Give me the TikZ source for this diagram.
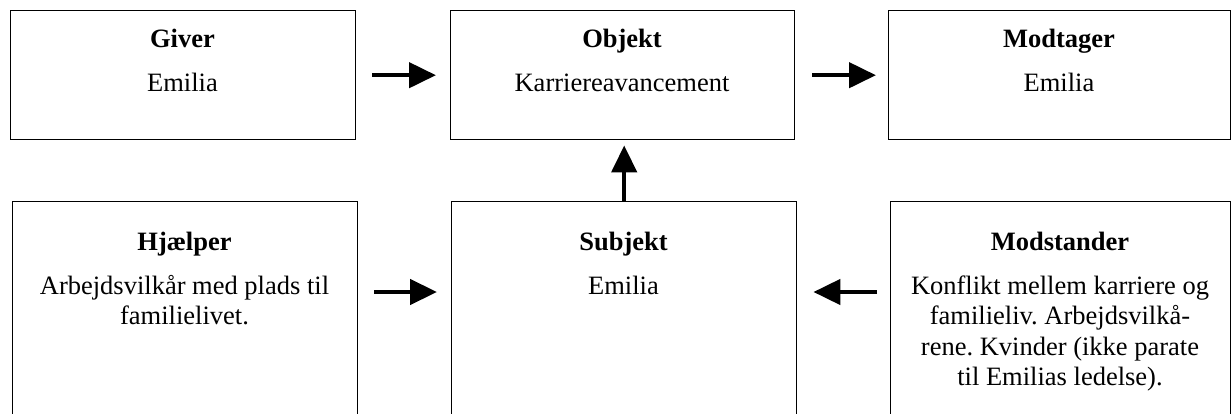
\documentclass[tikz,border=0pt]{standalone}
\usepackage{fontspec}
\setmainfont{Liberation Serif}
\usetikzlibrary{arrows.meta}
\frenchspacing
\begin{document}
\begin{tikzpicture}[x=1pt,y=-1pt,
  box/.style={draw, line width=1.4pt, rectangle, anchor=north west, inner sep=0pt},
  ttl/.style={anchor=base, font=\fontsize{26.5}{30.5}\selectfont\bfseries, inner sep=0pt},
  txt/.style={anchor=base, align=center, font=\fontsize{26.5}{30.5}\selectfont, inner sep=0pt},
  % several lines: the strut puts the first baseline 20pt below the node's top
  para/.style={anchor=north, align=center, font=\fontsize{26.5}{30.5}\selectfont, inner sep=0pt},
  arr/.style={line width=4.5pt, -{Triangle[length=27pt,width=25pt]}}]
  \newcommand{\firstline}{\rule{0pt}{20pt}}
  \useasboundingbox (0,0) rectangle (1231,414);
  \clip (0,0) rectangle (1231,414);

  % upper row
  \node[box, minimum width=345pt, minimum height=129pt] (giver) at (10,10) {};
  \node[box, minimum width=344pt, minimum height=129pt] (objekt) at (450,10) {};
  \node[box, minimum width=342pt, minimum height=129pt] (modtager) at (888,10) {};
  % lower row (runs past the lower edge)
  \node[box, minimum width=345pt, minimum height=240pt] (hjaelper) at (12,201) {};
  \node[box, minimum width=345pt, minimum height=240pt] (subjekt) at (451,201) {};
  \node[box, minimum width=340pt, minimum height=240pt] (modstander) at (890,201) {};

  % texts
  \node[ttl] (giverT) at (182.5,48) {Giver};
  \node[txt] (giverB) at (182.5,92) {Emilia};
  \node[ttl] (objektT) at (622,48) {Objekt};
  \node[txt] (objektB) at (622,92) {Karriereavancement};
  \node[ttl] (modtagerT) at (1059,48) {Modtager};
  \node[txt] (modtagerB) at (1059,92) {Emilia};
  \node[ttl] (hjaelperT) at (184.5,250) {Hjælper};
  \node[para] (hjaelperB) at (184.5,274) {\firstline Arbejdsvilkår med plads til\\familielivet.};
  \node[ttl] (subjektT) at (623.5,250) {Subjekt};
  \node[txt] (subjektB) at (623.5,294) {Emilia};
  \node[ttl] (modstanderT) at (1060,250) {Modstander};
  \node[para] (modstanderB) at (1060,274) {\firstline Konflikt mellem karriere og\\familieliv. Arbejdsvilkå-\\rene. Kvinder (ikke parate\\til Emilias ledelse).};

  % connectors
  \coordinate (lowrow) at (0,292);
  \draw[arr, shorten <=16pt, shorten >=14pt] (giver.east) -- (objekt.west);
  \draw[arr, shorten <=17pt, shorten >=12pt] (objekt.east) -- (modtager.west);
  \draw[arr, shorten >=5pt] (subjekt.north) -- (subjekt.north |- objekt.south);
  \draw[arr, shorten <=16pt, shorten >=14pt] (hjaelper.east |- lowrow) -- (subjekt.west |- lowrow);
  \draw[arr, shorten <=13pt, shorten >=16pt] (modstander.west |- lowrow) -- (subjekt.east |- lowrow);
\end{tikzpicture}
\end{document}
